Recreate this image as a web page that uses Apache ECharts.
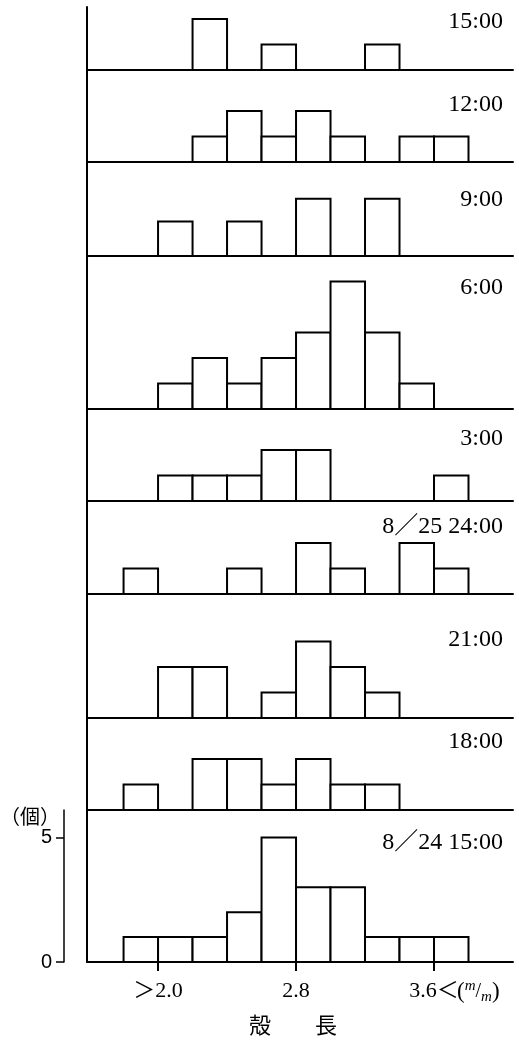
<!DOCTYPE html>
<html><head><meta charset="utf-8">
<script src="https://cdn.jsdelivr.net/npm/echarts@6/dist/echarts.min.js"></script>
<style>html,body{margin:0;padding:0;background:#fff}#c{width:519px;height:1042px}</style>
</head><body><div id="c"></div>
<script>
// bin lower edges (mm), bin width 0.2
const binStarts = [1.8, 2.0, 2.2, 2.4, 2.6, 2.8, 3.0, 3.2, 3.4, 3.6];
const panelLabels = ['15:00', '12:00', '9:00', '6:00', '3:00', '8／25 24:00', '21:00', '18:00', '8／24 15:00'];
const c_25_1500 = [0, 0, 2, 0, 1, 0, 0, 1, 0, 0];
const c_25_1200 = [0, 0, 1, 2, 1, 2, 1, 0, 1, 1];
const c_25_0900 = [0, 1.35, 0, 1.35, 0, 2.25, 0, 2.25, 0, 0];
const c_25_0600 = [0, 1, 2, 1, 2, 3, 5, 3, 1, 0];
const c_25_0300 = [0, 1, 1, 1, 2, 2, 0, 0, 0, 1];
const c_25_2400 = [1, 0, 0, 1, 0, 2, 1, 0, 2, 1];
const c_24_2100 = [0, 2, 2, 0, 1, 3, 2, 1, 0, 0];
const c_24_1800 = [1, 0, 2, 2, 1, 2, 1, 1, 0, 0];
const c_24_1500 = [1, 1, 1, 2, 5, 3, 3, 1, 1, 1];
const xTickValues = [2.0, 2.8, 3.6];
const xTickLabels = ['＞2.0', '2.8', '3.6＜'];
const yTickValues = [0, 5];
const binWidth = 0.2;

const panels = [c_25_1500, c_25_1200, c_25_0900, c_25_0600, c_25_0300, c_25_2400, c_24_2100, c_24_1800, c_24_1500];

// layout (pixels)
const tops = [7, 70, 162, 256, 409, 501, 594, 718, 810];
const bottoms = [70, 162, 256, 409, 501, 594, 718, 810, 962];
const labelY = [22, 105, 200, 288, 439, 527, 640, 742, 843];
const unitPx = [25.5, 25.5, 25.5, 25.5, 25.5, 25.5, 25.5, 25.5, 24.9];
const gridLeft = 87, gridWidth = 426;
const xMin = 1.588, xMax = 4.058;

const serif = '"Liberation Serif", "Noto Sans CJK JP"';
const grids = [], xAxes = [], yAxes = [], series = [], graphics = [];
const last = panels.length - 1;

panels.forEach((vals, i) => {
  const h = bottoms[i] - tops[i];
  grids.push({left: gridLeft, top: tops[i], width: gridWidth, height: h});
  const isLast = i === last;
  xAxes.push({
    type: 'value', gridIndex: i, min: xMin, max: xMax,
    axisLine: {show: true, onZero: false, lineStyle: {color: '#000', width: 2}},
    splitLine: {show: false},
    axisTick: isLast ? {show: true, inside: false, length: 9, customValues: xTickValues, lineStyle: {color: '#000', width: 2}} : {show: false},
    axisLabel: isLast ? {
      show: true, customValues: xTickValues, margin: 18, color: '#000', fontSize: 22, fontFamily: serif,
      formatter: v => { const k = xTickValues.findIndex(t => Math.abs(t - v) < 1e-6); return k >= 0 ? xTickLabels[k] : ''; }
    } : {show: false},
    name: isLast ? '殻　　長' : '', nameLocation: 'middle', nameGap: 52,
    nameTextStyle: {color: '#000', fontSize: 22, fontFamily: '"Noto Sans CJK JP"', padding: [0, 14, 0, 0]}
  });
  yAxes.push({
    type: 'value', gridIndex: i, min: 0, max: h / unitPx[i], position: 'left',
    axisLine: {show: true, onZero: false, lineStyle: {color: '#000', width: 2}},
    axisTick: {show: false}, axisLabel: {show: false}, splitLine: {show: false}
  });
  series.push({
    type: 'custom', xAxisIndex: i, yAxisIndex: yAxes.length - 1,
    data: binStarts.map((b, k) => [b, vals[k]]).filter(d => d[1] > 0),
    renderItem: (params, api) => {
      const x0 = api.value(0), v = api.value(1);
      const p0 = api.coord([x0, v]);
      const p1 = api.coord([x0 + binWidth, 0]);
      return {type: 'rect', shape: {x: p0[0], y: p0[1], width: p1[0] - p0[0], height: p1[1] - p0[1]},
        style: {fill: '#fff', stroke: '#000', lineWidth: 2}};
    },
    silent: true, animation: false
  });
  if (isLast) {
    yAxes.push({
      type: 'value', gridIndex: i, min: 0, max: h / unitPx[i], position: 'left', offset: 23,
      axisLine: {show: true, lineStyle: {color: '#000', width: 1.5}},
      axisTick: {show: true, length: 8, customValues: yTickValues, lineStyle: {color: '#000', width: 1.5}},
      axisLabel: {show: true, customValues: yTickValues, margin: 12, color: '#000', fontSize: 20, fontFamily: '"Liberation Sans"'},
      splitLine: {show: false}
    });
  }
  graphics.push({
    type: 'text', x: 503, y: labelY[i], silent: true,
    style: {text: panelLabels[i], align: 'right', verticalAlign: 'middle', fill: '#000', font: '24px ' + serif}
  });
});

graphics.push({
  type: 'text', x: 30, y: 816, silent: true,
  style: {text: '（個）', align: 'center', verticalAlign: 'middle', fill: '#000', font: '20px "Noto Sans CJK JP"'}
});
graphics.push({
  type: 'text', x: 457, y: 992, silent: true,
  style: {
    text: '{p|(}{t|m}{s|/}{b|m}{p|)}', verticalAlign: 'middle', align: 'left',
    rich: {
      p: {fontSize: 23, fontFamily: serif, fill: '#000', lineHeight: 26},
      t: {fontSize: 15, fontFamily: serif, fontStyle: 'italic', fill: '#000', verticalAlign: 'top', lineHeight: 26},
      s: {fontSize: 20, fontFamily: serif, fill: '#000', lineHeight: 26},
      b: {fontSize: 15, fontFamily: serif, fontStyle: 'italic', fill: '#000', verticalAlign: 'bottom', lineHeight: 26}
    }
  }
});

const chart = echarts.init(document.getElementById('c'), null, {renderer: 'canvas'});
chart.setOption({
  animation: false, backgroundColor: '#fff',
  grid: grids, xAxis: xAxes, yAxis: yAxes, series: series, graphic: graphics
});
</script></body></html>
